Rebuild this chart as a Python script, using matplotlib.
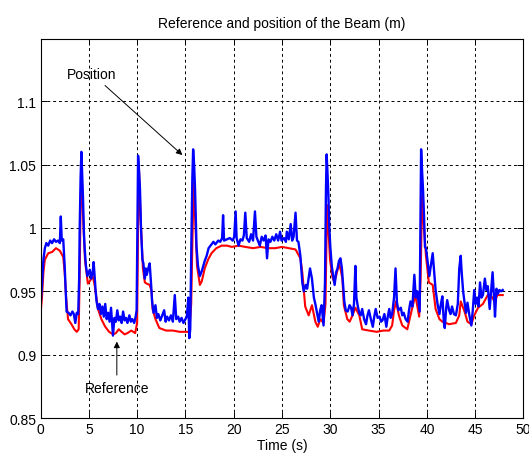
import matplotlib
matplotlib.use("Agg")
import matplotlib.pyplot as plt

# reference signal (red)
t_ref = [0, 0.15, 0.3, 0.45, 0.8, 1.2, 1.6, 2.0, 2.35, 2.5, 2.65, 2.85, 3.2, 3.5, 3.75, 3.95,
         4.05, 4.15, 4.25, 4.4, 4.6, 4.9, 5.1, 5.4, 5.6, 5.8, 5.95, 6.3, 6.7, 7.1, 7.5, 7.8,
         8.1, 8.4, 8.7, 9.0, 9.4, 9.8, 10.0, 10.1, 10.2, 10.35, 10.6, 10.8, 11.0, 11.3, 11.5,
         11.6, 11.9, 12.3, 13.0, 13.7, 14.4, 15.0, 15.4, 15.6, 15.75, 15.85, 16.0, 16.2, 16.5,
         16.7, 17.0, 17.35, 17.7, 18.2, 18.75, 19.3, 19.8, 20.5, 21.2, 22.0, 22.8, 23.5, 24.3,
         25.0, 25.7, 26.4, 26.9, 27.1, 27.25, 27.4, 27.76, 28.1, 28.45, 28.7, 28.97, 29.3, 29.5,
         29.66, 29.8, 29.97, 30.2, 30.4, 30.6, 30.9, 31.1, 31.25, 31.4, 31.76, 32.0, 32.3, 32.6,
         33.0, 33.3, 34.0, 34.8, 35.5, 36.1, 36.4, 36.6, 36.8, 37.1, 37.45, 37.97, 38.3, 38.8,
         39.2, 39.35, 39.5, 39.7, 39.9, 40.2, 40.6, 40.9, 41.3, 41.6, 42.3, 43.0, 43.35, 43.5,
         43.9, 44.2, 44.6, 44.9, 45.3, 45.8, 46.3, 46.6, 47.0, 47.3, 47.85]
ref = [0.932, 0.945, 0.965, 0.975, 0.980, 0.981, 0.984, 0.982, 0.977, 0.965, 0.945, 0.928,
       0.924, 0.920, 0.918, 0.920, 0.960, 1.020, 1.045, 1.010, 0.975, 0.956, 0.958, 0.962,
       0.955, 0.944, 0.936, 0.928, 0.922, 0.918, 0.916, 0.917, 0.920, 0.918, 0.916, 0.917,
       0.919, 0.917, 0.925, 1.000, 1.045, 1.010, 0.968, 0.957, 0.956, 0.955, 0.950, 0.936,
       0.928, 0.921, 0.919, 0.919, 0.918, 0.918, 0.918, 0.940, 1.000, 1.035, 1.010, 0.970,
       0.955, 0.958, 0.968, 0.975, 0.980, 0.984, 0.986, 0.986, 0.985, 0.986, 0.985, 0.984,
       0.985, 0.984, 0.984, 0.985, 0.984, 0.983, 0.976, 0.965, 0.952, 0.938, 0.931, 0.939,
       0.926, 0.922, 0.928, 0.925, 0.940, 1.018, 1.000, 0.975, 0.962, 0.957, 0.962, 0.972,
       0.966, 0.960, 0.939, 0.928, 0.926, 0.931, 0.937, 0.931, 0.920, 0.919, 0.918, 0.919,
       0.919, 0.923, 0.935, 0.942, 0.931, 0.923, 0.920, 0.931, 0.947, 0.930, 0.960, 1.026,
       1.000, 0.978, 0.957, 0.955, 0.936, 0.928, 0.926, 0.924, 0.925, 0.931, 0.942, 0.934,
       0.926, 0.924, 0.931, 0.937, 0.940, 0.947, 0.947, 0.942, 0.947, 0.947]

# measured position (blue)
t_pos = [0, 0.15, 0.3, 0.45, 0.6, 0.8, 1.0, 1.2, 1.4, 1.6, 1.8, 2.0, 2.1, 2.2, 2.35, 2.5, 2.6,
         2.7, 2.9, 3.1, 3.3, 3.45, 3.6, 3.75, 3.9, 4.0, 4.05, 4.15, 4.23, 4.3, 4.4, 4.5, 4.57,
         4.7, 4.85, 5.0, 5.1, 5.25, 5.4, 5.5, 5.6, 5.7, 5.8, 5.95, 6.1, 6.25, 6.4, 6.55, 6.7,
         6.85, 7.0, 7.15, 7.3, 7.5, 7.65, 7.8, 7.95, 8.1, 8.25, 8.4, 8.55, 8.7, 8.85, 9.0, 9.2,
         9.35, 9.5, 9.7, 9.85, 9.95, 10.03, 10.1, 10.2, 10.3, 10.4, 10.55, 10.65, 10.8, 10.9,
         11.0, 11.15, 11.3, 11.45, 11.55, 11.7, 11.9, 12.05, 12.2, 12.4, 12.6, 12.8, 12.95,
         13.1, 13.3, 13.5, 13.7, 13.9, 14.05, 14.25, 14.4, 14.6, 14.8, 15.0, 15.15, 15.3, 15.4,
         15.5, 15.62, 15.72, 15.8, 15.9, 16.0, 16.15, 16.3, 16.5, 16.7, 16.85, 17.0, 17.2,
         17.4, 17.6, 17.9, 18.1, 18.4, 18.6, 18.8, 18.9, 19.0, 19.3, 19.6, 19.9, 20.05, 20.2,
         20.3, 20.5, 20.7, 20.9, 21.05, 21.2, 21.35, 21.6, 21.8, 22.0, 22.2, 22.35, 22.5, 22.7,
         22.9, 23.1, 23.3, 23.45, 23.6, 23.8, 24.0, 24.2, 24.4, 24.6, 24.8, 24.95, 25.2, 25.4,
         25.5, 25.7, 25.9, 26.05, 26.2, 26.4, 26.55, 26.7, 26.9, 27.1, 27.25, 27.45, 27.6,
         27.75, 27.9, 28.1, 28.3, 28.45, 28.6, 28.8, 28.95, 29.1, 29.3, 29.45, 29.55, 29.62,
         29.7, 29.8, 29.9, 30.0, 30.15, 30.3, 30.45, 30.6, 30.75, 30.9, 31.05, 31.2, 31.3,
         31.45, 31.6, 31.8, 32.0, 32.15, 32.3, 32.45, 32.6, 32.7, 32.85, 33.0, 33.15, 33.3,
         33.5, 33.7, 33.85, 34.0, 34.2, 34.4, 34.55, 34.7, 34.9, 35.1, 35.25, 35.4, 35.6,
         35.8, 35.95, 36.1, 36.25, 36.4, 36.6, 36.75, 36.9, 37.05, 37.3, 37.45, 37.6, 37.8,
         38.0, 38.15, 38.3, 38.5, 38.7, 38.85, 39.0, 39.15, 39.25, 39.32, 39.4, 39.5, 39.6,
         39.7, 39.8, 39.9, 40.05, 40.25, 40.45, 40.6, 40.75, 40.9, 41.1, 41.3, 41.45, 41.6,
         41.75, 41.85, 42.0, 42.1, 42.3, 42.45, 42.6, 42.8, 43.0, 43.2, 43.35, 43.5, 43.6,
         43.75, 43.9, 44.05, 44.2, 44.4, 44.6, 44.75, 44.9, 45.05, 45.2, 45.35, 45.5, 45.65,
         45.8, 46.0, 46.15, 46.3, 46.5, 46.65, 46.8, 46.95, 47.05, 47.2, 47.35, 47.5, 47.7,
         47.85]
pos = [0.938, 0.955, 0.975, 0.984, 0.988, 0.986, 0.990, 0.988, 0.991, 0.989, 0.990, 0.988,
       1.009, 0.990, 0.991, 0.970, 0.952, 0.934, 0.933, 0.931, 0.934, 0.932, 0.925, 0.933,
       0.932, 0.960, 0.997, 1.040, 1.060, 1.045, 1.023, 0.995, 0.984, 0.970, 0.962, 0.965,
       0.967, 0.960, 0.965, 0.973, 0.962, 0.951, 0.942, 0.936, 0.940, 0.932, 0.938, 0.930,
       0.940, 0.928, 0.933, 0.926, 0.937, 0.915, 0.929, 0.926, 0.935, 0.927, 0.930, 0.925,
       0.934, 0.927, 0.929, 0.925, 0.931, 0.926, 0.928, 0.925, 0.930, 0.935, 1.000, 1.057,
       1.045, 1.030, 1.000, 0.975, 0.972, 0.960, 0.968, 0.963, 0.968, 0.972, 0.955, 0.942,
       0.933, 0.939, 0.929, 0.932, 0.927, 0.931, 0.935, 0.926, 0.930, 0.927, 0.931, 0.926,
       0.947, 0.928, 0.930, 0.926, 0.929, 0.925, 0.928, 0.930, 0.945, 0.913, 0.920, 0.990,
       1.040, 1.062, 1.050, 1.030, 0.985, 0.970, 0.962, 0.966, 0.970, 0.974, 0.978, 0.984,
       0.986, 0.989, 0.987, 0.990, 0.989, 0.992, 1.010, 0.990, 0.991, 0.992, 0.990, 0.993,
       1.013, 0.992, 0.986, 0.991, 0.990, 0.994, 1.012, 0.992, 0.989, 0.995, 0.990, 1.013,
       0.993, 0.990, 0.986, 0.993, 0.990, 0.994, 0.976, 0.991, 0.989, 0.993, 0.990, 0.995,
       0.990, 0.997, 0.990, 0.992, 0.989, 0.997, 0.991, 1.003, 0.990, 0.993, 1.012, 0.990,
       0.989, 0.978, 0.957, 0.950, 0.955, 0.952, 0.960, 0.968, 0.960, 0.945, 0.940, 0.934,
       0.926, 0.935, 0.939, 0.923, 0.957, 1.030, 1.058, 1.045, 1.026, 1.000, 0.985, 0.970,
       0.962, 0.955, 0.965, 0.968, 0.974, 0.976, 0.968, 0.958, 0.942, 0.935, 0.934, 0.939,
       0.937, 0.931, 0.940, 0.970, 0.945, 0.938, 0.933, 0.931, 0.936, 0.928, 0.924, 0.931,
       0.935, 0.928, 0.922, 0.930, 0.936, 0.929, 0.930, 0.926, 0.927, 0.932, 0.922, 0.930,
       0.936, 0.929, 0.932, 0.945, 0.968, 0.941, 0.935, 0.937, 0.931, 0.933, 0.928, 0.926,
       0.935, 0.942, 0.938, 0.963, 0.945, 0.950, 0.940, 0.934, 0.990, 1.062, 1.045, 1.030,
       1.010, 0.985, 0.984, 0.975, 0.962, 0.972, 0.980, 0.965, 0.951, 0.940, 0.932, 0.940,
       0.946, 0.926, 0.921, 0.937, 0.943, 0.935, 0.932, 0.938, 0.932, 0.931, 0.940, 0.968,
       0.978, 0.965, 0.950, 0.941, 0.933, 0.941, 0.931, 0.923, 0.935, 0.951, 0.940, 0.945,
       0.938, 0.957, 0.945, 0.947, 0.960, 0.951, 0.954, 0.936, 0.950, 0.965, 0.945, 0.930,
       0.952, 0.948, 0.951, 0.950, 0.951]

x_ticks = [0, 5, 10, 15, 20, 25, 30, 35, 40, 45, 50]
y_ticks = [0.85, 0.9, 0.95, 1.0, 1.05, 1.1]
y_labels = ["0.85", "0.9", "0.95", "1", "1.05", "1.1"]

plt.rcParams["font.family"] = ["Liberation Sans", "DejaVu Sans"]
plt.rcParams["font.size"] = 10

fig = plt.figure(figsize=(5.29, 4.56), dpi=100)
ax = fig.add_axes([0.0766, 0.0811, 0.913, 0.8311])

ax.plot(t_ref, ref, color="#ff0000", linewidth=1.5)
ax.plot(t_pos, pos, color="#0000ff", linewidth=1.7)

ax.set_xlim(0, 50)
ax.set_ylim(0.85, 1.149)
ax.set_xticks(x_ticks)
ax.set_yticks(y_ticks)
ax.set_yticklabels(y_labels)
ax.grid(True, color="black", linestyle=(0, (3, 3)), linewidth=0.7)
ax.tick_params(direction="in", top=True, right=True, length=4, width=0.7, pad=3)
for s in ax.spines.values():
    s.set_linewidth(0.8)

ax.set_title("Reference and position of the Beam (m)", fontsize=10, pad=9)
ax.set_xlabel("Time (s)", labelpad=1)

ax.annotate("Position", xy=(14.9, 1.056), xytext=(7.9, 1.116), ha="right", va="bottom",
            arrowprops=dict(arrowstyle="-|>", color="black", lw=0.7, mutation_scale=9))
ax.annotate("Reference", xy=(7.9, 0.9125), xytext=(7.9, 0.8795), ha="center", va="top",
            arrowprops=dict(arrowstyle="-|>", color="black", lw=0.7, mutation_scale=9))

fig.savefig("out.png", dpi=100)
